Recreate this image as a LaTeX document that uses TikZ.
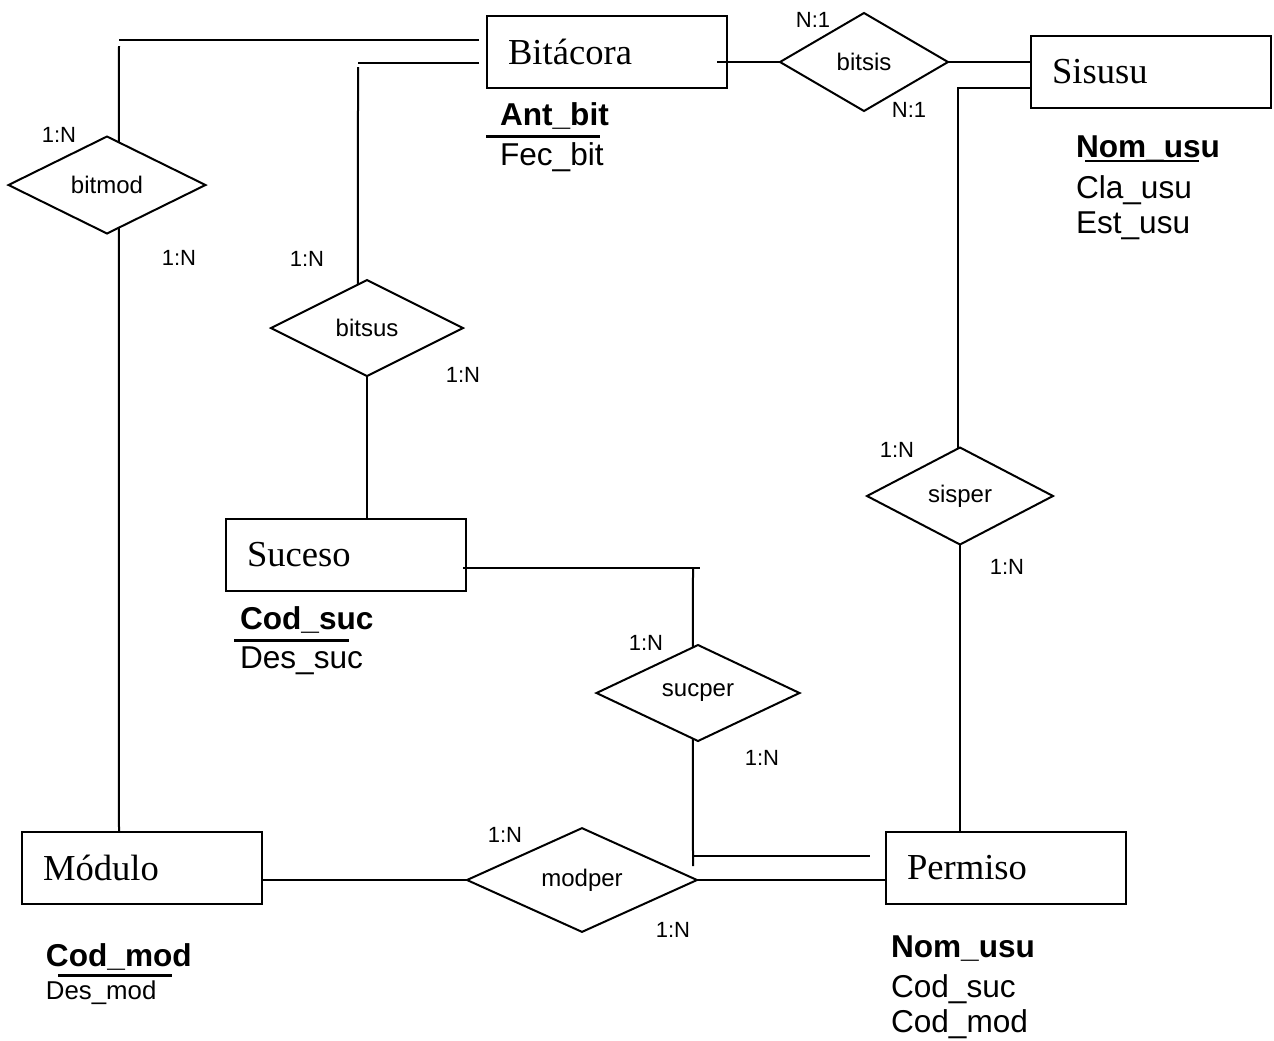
\documentclass[tikz,border=0pt]{standalone}
\usepackage{fontspec}
\setmainfont{Liberation Serif}
\setsansfont{Liberation Sans}
\usepackage{tikz}
\usetikzlibrary{shapes.geometric, calc}

\begin{document}
\begin{tikzpicture}[x=0.5pt, y=-0.5pt,
        line width=1pt,
        every node/.style={inner sep=0pt, outer sep=0pt},
        entity/.style={draw=black, rectangle, minimum width=120pt, minimum height=36pt,
            text width=99pt, align=left, inner xsep=10.5pt, font=\fontsize{18.3}{22}\selectfont},
        relation/.style={draw=black, diamond, font=\sffamily\fontsize{12}{14}\selectfont},
        card/.style={font=\sffamily\fontsize{11}{13}\selectfont},
        attr/.style={anchor=base west, font=\sffamily\fontsize{15.8}{18}\selectfont},
        keyattr/.style={anchor=base west, font=\sffamily\bfseries\fontsize{15.8}{18}\selectfont},
        keyline/.style={line width=1.5pt},]

        \useasboundingbox (0,0) rectangle (1274,1040);

        % entidades
        \node[entity] (bit) at (607,52) {Bitácora};
        \node[entity] (sis) at (1151,72) {Sisusu};
        \node[entity] (suc) at (346,555) {Suceso};
        \node[entity] (mod) at (142,868) {Módulo};
        \node[entity] (per) at (1006,868) {Permiso};

        % relaciones
        \node[relation, minimum width=98.5pt, minimum height=48.5pt] (bitmod) at (107,185) {bitmod};
        \node[relation, minimum width=84pt, minimum height=49pt] (bitsis) at (864,62) {bitsis};
        \node[relation, minimum width=96pt, minimum height=48pt] (bitsus) at (367,328) {bitsus};
        \node[relation, minimum width=93pt, minimum height=48.5pt] (sisper) at (960,496) {sisper};
        \node[relation, minimum width=101.5pt, minimum height=48pt] (sucper) at (698,693) {sucper};
        \node[relation, minimum width=115pt, minimum height=48.5pt] (modper) at (582,880) {modper};

        % atributos
        \node[keyattr] (antbit) at (500,125) {Ant\_bit};
        \node[attr] (fecbit) at (500,165) {Fec\_bit};
        \node[keyattr] (nomusu) at (1076,157) {Nom\_usu};
        \node[attr] (clausu) at (1076,198) {Cla\_usu};
        \node[attr] (estusu) at (1076,233) {Est\_usu};
        \node[keyattr] (codsuc) at (240,629) {Cod\_suc};
        \node[attr] (dessuc) at (240,668) {Des\_suc};
        \node[keyattr] (codmod) at (46,966) {Cod\_mod};
        \node[attr, font=\sffamily\fontsize{12.9}{15}\selectfont] (desmod) at (46,999) {Des\_mod};
        \node[keyattr] (pnomusu) at (891,957) {Nom\_usu};
        \node[attr] (pcodsuc) at (891,997) {Cod\_suc};
        \node[attr] (pcodmod) at (891,1032) {Cod\_mod};

        \draw[keyline] (486,136) -- (600,136);
        \draw[line width=1.2pt] (1085,161) -- (1199,161);
        \draw[keyline] (234,640) -- (349,640);
        \draw[keyline] (58,975) -- (172,975);

        % cardinalidades
        \node[card] (bm_a) at (59,135) {1:N};
        \node[card] (bm_b) at (179,258) {1:N};
        \node[card] (bu_a) at (307,259) {1:N};
        \node[card] (bu_b) at (463,375) {1:N};
        \node[card] (bs_a) at (813,20) {N:1};
        \node[card] (bs_b) at (909,110) {N:1};
        \node[card] (sp_a) at (897,450) {1:N};
        \node[card] (sp_b) at (1007,567) {1:N};
        \node[card] (sc_a) at (646,643) {1:N};
        \node[card] (sc_b) at (762,758) {1:N};
        \node[card] (mp_a) at (505,835) {1:N};
        \node[card] (mp_b) at (673,930) {1:N};

        % esquinas
        \coordinate (bm) at (119,40);
        \coordinate (bs) at (358,63);
        \coordinate (sp) at (958,88);
        \coordinate (sc) at (700,568);
        \coordinate (pc) at (693,856);

        \draw ([xshift=-4pt,yshift=6pt]bit.west) -- (bm);
        \draw ([yshift=-3pt]bm) -- ($(bitmod.north)!0.12!(bitmod.east)$);
        \draw ($(bitmod.south)!0.12!(bitmod.east)$) -- (bm |- mod.north);

        \draw ([xshift=-4pt,yshift=-5.5pt]bit.west) -- (bs);
        \draw ([yshift=-2pt]bs) -- ($(bitsus.north)!0.094!(bitsus.west)$);
        \draw (bitsus.south) -- (bitsus.south |- suc.north);

        \draw ([xshift=-5pt]bitsis.west -| bit.east) -- (bitsis.west);
        \draw (bitsis.east) -- (bitsis.east -| sis.west);

        \draw ([yshift=-8pt]sis.west) -- (sp) -- (sp |- sisper.north);
        \draw (sisper.south) -- (sisper.south |- per.north);

        \draw ([xshift=-1.5pt,yshift=-6.5pt]suc.east) -- (sc);
        \draw ([xshift=-3.5pt]sc) -- ($(sucper.north)!0.05!(sucper.west)$);
        \draw ($(sucper.south)!0.05!(sucper.west)$) -- ([yshift=-5pt]pc);
        \draw (pc) -- ([xshift=-8pt,yshift=6pt]per.west);

        \draw (modper.east) -- (modper.east -| per.west);
        \draw (modper.west) -- (modper.west -| mod.east);

    \end{tikzpicture}
\end{document}
